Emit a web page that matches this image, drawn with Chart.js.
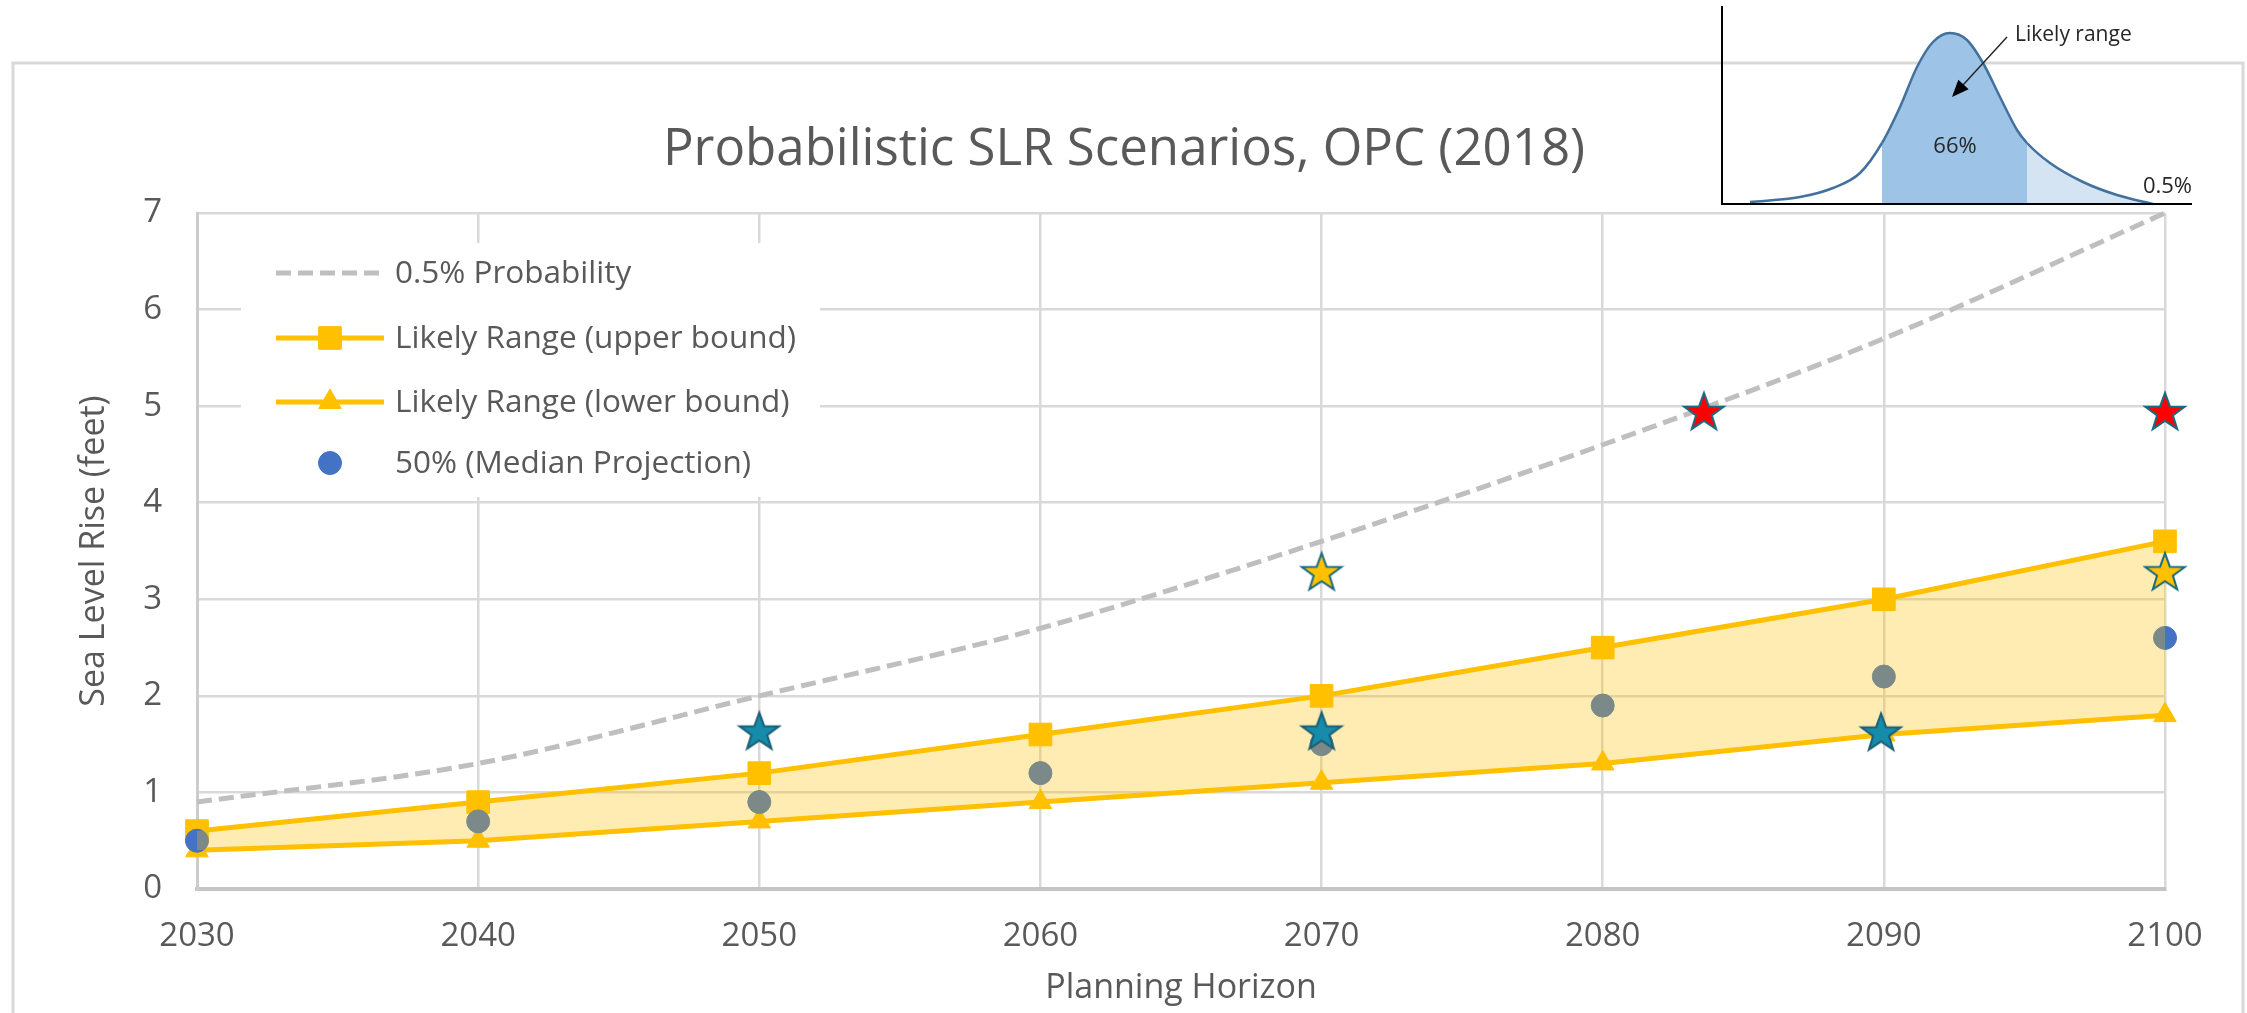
<!DOCTYPE html>
<html><head><meta charset="utf-8">
<script src="https://cdn.jsdelivr.net/npm/chart.js@4.4.1/dist/chart.umd.min.js"></script>
<style>
html,body{margin:0;padding:0;background:#fff;overflow:hidden;}
#wrap{position:relative;width:2247px;height:1013px;}
#main{position:absolute;left:0;top:0;}
#inset{position:absolute;left:1700px;top:0;}
</style></head><body>
<div id="wrap">
<canvas id="main" width="2247" height="1013"></canvas>
<canvas id="inset" width="510" height="215"></canvas>
</div>
<script>
// ---------- data ----------
const chartTitle = 'Probabilistic SLR Scenarios, OPC (2018)';
const years = [2030, 2040, 2050, 2060, 2070, 2080, 2090, 2100];
const yTicks = [0, 1, 2, 3, 4, 5, 6, 7];
const prob05 = [0.9, 1.3, 2.0, 2.7, 3.6, 4.6, 5.7, 7.0];
const upperBound = [0.6, 0.9, 1.2, 1.6, 2.0, 2.5, 3.0, 3.6];
const lowerBound = [0.4, 0.5, 0.7, 0.9, 1.1, 1.3, 1.6, 1.8];
const median = [0.5, 0.7, 0.9, 1.2, 1.5, 1.9, 2.2, 2.6];
const tealStarX = [2050, 2070, 2089.9];
const tealStarY = [1.64, 1.64, 1.63];
const goldStarX = [2070, 2100];
const goldStarY = [3.29, 3.29];
const redStarX = [2083.6, 2100];
const redStarY = [4.95, 4.95];
const seriesNames = ['0.5% Probability', 'Likely Range (upper bound)', 'Likely Range (lower bound)', '50% (Median Projection)'];
// inset (probability density sketch)
const insetX = [28, 78, 111, 138, 160, 178, 195, 211, 228, 245, 261, 278, 295, 305, 328, 361, 395, 431];
const insetY = [2, 7, 16, 31, 61, 97, 137, 162, 171, 164, 141, 107, 74, 61, 41, 22, 9, 0];
const insetLabels = ['Likely range', '66%', '0.5%'];

// ---------- helpers ----------
const FONT = "'Open Sans', 'DejaVu Sans', sans-serif";
const GREY = '#595959';
const pts = (xs, ys) => xs.map((x, i) => ({x: x, y: ys[i]}));

function makeStar(fill, stroke) {
  const c = document.createElement('canvas');
  c.width = 46; c.height = 46;
  const g = c.getContext('2d');
  const R = 20, r = R * 0.4, cx = 23, cy = 23 + R * 0.0955;
  g.beginPath();
  for (let i = 0; i < 10; i++) {
    const a = -Math.PI / 2 + i * Math.PI / 5;
    const rad = (i % 2) ? r : R;
    g.lineTo(cx + rad * Math.cos(a) * 1.04, cy + rad * Math.sin(a));
  }
  g.closePath();
  g.fillStyle = fill; g.fill();
  g.lineWidth = 2; g.strokeStyle = stroke; g.stroke();
  return c;
}
const tealStar = makeStar('#168BAA', '#1A5E73');
const goldStar = makeStar('#FFC000', '#1A6A80');
const redStar = makeStar('#FF0000', '#1A6A80');

// ---------- main chart plugins ----------
const frameTitleLegend = {
  id: 'frameTitleLegend',
  beforeDraw(chart) {
    const ctx = chart.ctx;
    ctx.save();
    ctx.fillStyle = '#fff';
    ctx.fillRect(0, 0, chart.width, chart.height);
    ctx.strokeStyle = '#D9D9D9'; ctx.lineWidth = 3;
    ctx.beginPath();
    ctx.moveTo(13, 1030); ctx.lineTo(13, 63); ctx.lineTo(2243, 63); ctx.lineTo(2243, 1030);
    ctx.stroke();
    ctx.restore();
  },
  afterDraw(chart) {
    const ctx = chart.ctx;
    ctx.save();
    ctx.fillStyle = GREY;
    ctx.font = '51px ' + FONT;
    ctx.textAlign = 'center'; ctx.textBaseline = 'alphabetic';
    ctx.fillText(chartTitle, 1124, 165);
    // legend
    ctx.fillStyle = '#fff';
    ctx.fillRect(241, 243, 579, 254);
    const rows = [273, 338, 402, 463];
    const ds = chart.data.datasets;
    for (let i = 0; i < 4; i++) {
      const d = ds[i], y = rows[i];
      if (d.showLine !== false) {
        ctx.strokeStyle = d.borderColor; ctx.lineWidth = d.borderWidth;
        ctx.setLineDash(d.borderDash || []);
        ctx.beginPath(); ctx.moveTo(276, y); ctx.lineTo(384, y); ctx.stroke();
        ctx.setLineDash([]);
      }
      if (d.pointRadius > 0) {
        ctx.fillStyle = d.pointBackgroundColor; ctx.strokeStyle = d.pointBorderColor; ctx.lineWidth = 1;
        Chart.helpers.drawPoint(ctx, {pointStyle: d.pointStyle, radius: d.pointRadius, borderWidth: 1, rotation: 0}, 330, y);
      }
      ctx.fillStyle = GREY;
      ctx.font = '31.5px ' + FONT;
      ctx.textAlign = 'left'; ctx.textBaseline = 'middle';
      ctx.fillText(seriesNames[i], 395, y + 1);
    }
    ctx.restore();
  }
};

new Chart(document.getElementById('main'), {
  type: 'line',
  data: {
    datasets: [
      {label: seriesNames[0], data: pts(years, prob05), borderColor: '#BFBFBF', borderWidth: 5,
       borderDash: [15, 7], pointRadius: 0, cubicInterpolationMode: 'monotone', fill: false, order: 5, clip: false},
      {label: seriesNames[1], data: pts(years, upperBound), borderColor: '#FFC000', borderWidth: 5,
       pointStyle: 'rect', pointRadius: 16, pointBackgroundColor: '#FFC000', pointBorderColor: '#FFC000', pointBorderWidth: 1,
       tension: 0, fill: false, order: 4, clip: false},
      {label: seriesNames[2], data: pts(years, lowerBound), borderColor: '#FFC000', borderWidth: 5,
       pointStyle: 'triangle', pointRadius: 13, pointBackgroundColor: '#FFC000', pointBorderColor: '#FFC000', pointBorderWidth: 1,
       tension: 0, fill: false, order: 4, clip: false},
      {label: seriesNames[3], data: pts(years, median), showLine: false, borderColor: '#4472C4', borderWidth: 1,
       pointStyle: 'circle', pointRadius: 11.5, pointBackgroundColor: '#4472C4', pointBorderColor: '#4472C4', pointBorderWidth: 1,
       fill: false, order: 3, clip: false},
      {label: 'likely range band', data: pts(years, upperBound), borderColor: 'rgba(0,0,0,0)', borderWidth: 1,
       pointRadius: 0, tension: 0, fill: 2, backgroundColor: 'rgba(255,192,0,0.3)', order: 2},
      {label: 'teal stars', data: pts(tealStarX, tealStarY), showLine: false, pointStyle: tealStar, pointRadius: 20, order: 0, clip: false},
      {label: 'gold stars', data: pts(goldStarX, goldStarY), showLine: false, pointStyle: goldStar, pointRadius: 20, order: 0, clip: false},
      {label: 'red stars', data: pts(redStarX, redStarY), showLine: false, pointStyle: redStar, pointRadius: 20, order: 0, clip: false}
    ]
  },
  options: {
    responsive: false, animation: false, events: [],
    layout: {padding: {left: 0, top: 213, right: 82, bottom: 0}},
    plugins: {legend: {display: false}, tooltip: {enabled: false}, title: {display: false}},
    scales: {
      x: {
        type: 'linear', min: years[0], max: years[years.length - 1],
        afterFit(s) { s.height = 124; },
        afterBuildTicks(s) { s.ticks = years.map(v => ({value: v})); },
        ticks: {font: {family: FONT, size: 33}, color: GREY, padding: 28, maxRotation: 0, autoSkip: false,
                callback: v => String(v)},
        grid: {color: '#D9D9D9', lineWidth: 2.5, drawTicks: false},
        border: {display: true, color: '#C4C4C4', width: 4},
        title: {display: true, text: 'Planning Horizon', font: {family: FONT, size: 34}, color: GREY, padding: {top: 0, bottom: 4}}
      },
      y: {
        type: 'linear', min: yTicks[0], max: yTicks[yTicks.length - 1],
        afterFit(s) { s.width = 197; },
        afterBuildTicks(s) { s.ticks = yTicks.map(v => ({value: v})); },
        ticks: {font: {family: FONT, size: 33}, color: GREY, padding: 35},
        grid: {color: '#D9D9D9', lineWidth: 2.5, drawTicks: false},
        border: {display: true, color: '#CCCCCC', width: 3},
        title: {display: true, text: 'Sea Level Rise (feet)', font: {family: FONT, size: 34}, color: GREY, padding: {top: 74, bottom: 0}}
      }
    }
  },
  plugins: [frameTitleLegend]
});

// ---------- inset ----------
const insetDecor = {
  id: 'insetDecor',
  afterDatasetsDraw(chart) {
    const {ctx, chartArea: a, scales: {x, y}} = chart;
    ctx.save();
    ctx.strokeStyle = '#000'; ctx.lineWidth = 2;
    ctx.beginPath(); ctx.moveTo(a.left, a.top); ctx.lineTo(a.left, a.bottom); ctx.lineTo(a.right, a.bottom); ctx.stroke();
    const x0 = x.getPixelForValue(285), y0 = y.getPixelForValue(167);
    const x1 = x.getPixelForValue(230), y1 = y.getPixelForValue(107);
    const ang = Math.atan2(y1 - y0, x1 - x0), L = 17, W = 7;
    ctx.strokeStyle = '#222'; ctx.lineWidth = 1.4;
    ctx.beginPath(); ctx.moveTo(x0, y0);
    ctx.lineTo(x1 - L * 0.8 * Math.cos(ang), y1 - L * 0.8 * Math.sin(ang)); ctx.stroke();
    ctx.fillStyle = '#000';
    ctx.beginPath(); ctx.moveTo(x1, y1);
    ctx.lineTo(x1 - L * Math.cos(ang) + W * Math.sin(ang), y1 - L * Math.sin(ang) - W * Math.cos(ang));
    ctx.lineTo(x1 - L * Math.cos(ang) - W * Math.sin(ang), y1 - L * Math.sin(ang) + W * Math.cos(ang));
    ctx.closePath(); ctx.fill();
    ctx.fillStyle = '#262626'; ctx.textBaseline = 'middle';
    ctx.font = '21px ' + FONT; ctx.textAlign = 'left';
    ctx.fillText(insetLabels[0], x.getPixelForValue(293), y.getPixelForValue(169));
    ctx.font = '22px ' + FONT; ctx.textAlign = 'center';
    ctx.fillText(insetLabels[1], x.getPixelForValue(233), y.getPixelForValue(57));
    ctx.textAlign = 'right';
    ctx.fillText(insetLabels[2], x.getPixelForValue(470), y.getPixelForValue(17));
    ctx.restore();
  }
};

new Chart(document.getElementById('inset'), {
  type: 'line',
  data: {
    datasets: [{
      data: pts(insetX, insetY), borderColor: '#41719C', borderWidth: 2.5, pointRadius: 0,
      cubicInterpolationMode: 'monotone', fill: 'origin', backgroundColor: '#9DC3E6',
      segment: {backgroundColor: c => c.p0DataIndex < 4 ? 'rgba(0,0,0,0)' : (c.p0DataIndex < 13 ? '#9DC3E6' : '#D4E4F3')}
    }]
  },
  options: {
    responsive: false, animation: false, events: [],
    layout: {padding: {left: 22, right: 18, top: 6, bottom: 11}},
    plugins: {legend: {display: false}, tooltip: {enabled: false}},
    scales: {x: {type: 'linear', min: 0, max: 470, display: false}, y: {min: 0, max: 198, display: false}}
  },
  plugins: [insetDecor]
});
</script>
</body></html>
